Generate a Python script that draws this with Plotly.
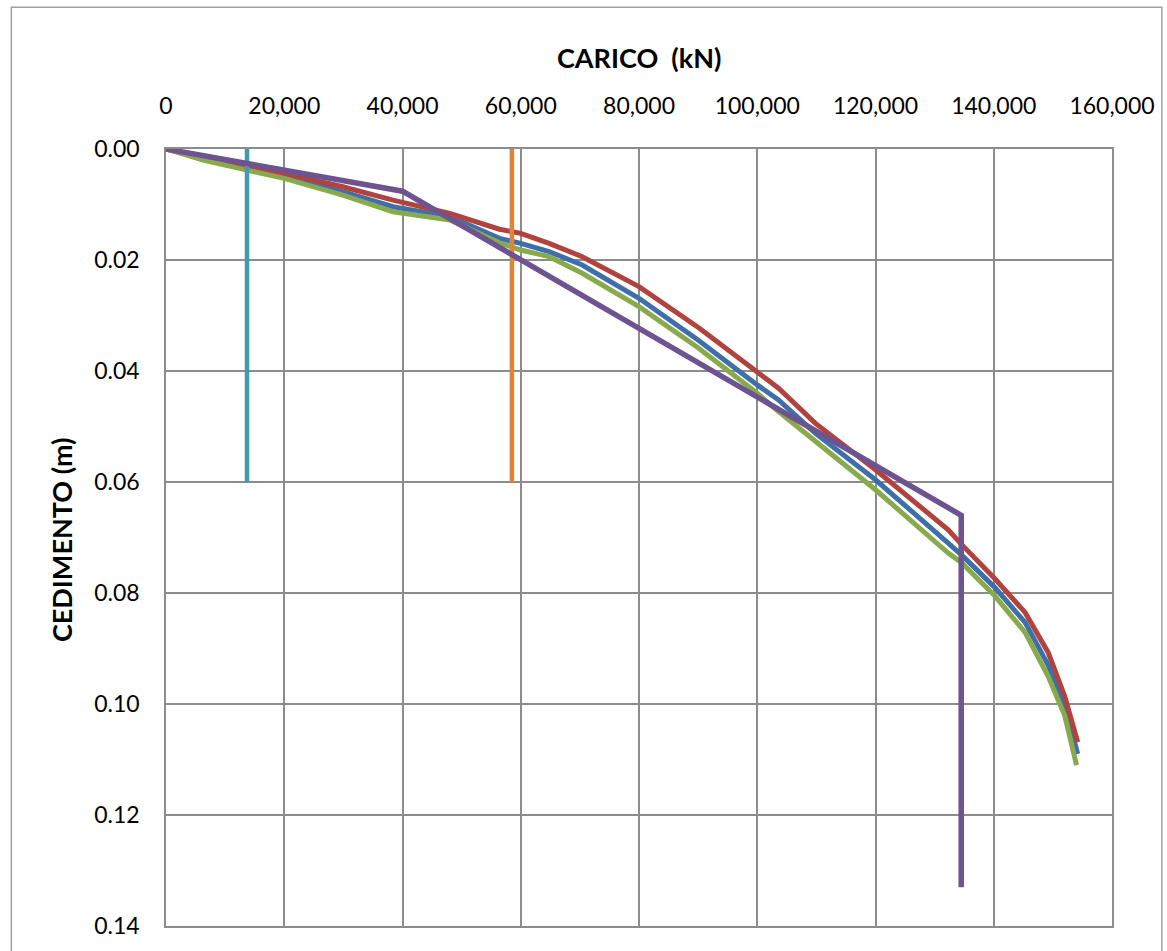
import plotly.graph_objects as go

# Load (kN) and settlement (m) series
red_x = [0, 6300, 13700, 20000, 29900, 38400, 48000, 56400, 60000, 64800, 70400, 80000, 90100,
         100000, 103600, 109800, 120000, 132300, 134500, 140000, 145300, 149200, 152000, 154200]
red_y = [0, 0.0017, 0.0034, 0.0044, 0.0068, 0.0092, 0.0116, 0.01445, 0.0152, 0.0170, 0.0194, 0.0248, 0.0322,
         0.0404, 0.0431, 0.0494, 0.0578, 0.0686, 0.0712, 0.0772, 0.0835, 0.0907, 0.0986, 0.1069]

blue_x = [0, 6300, 13700, 20000, 29900, 38400, 48000, 56400, 60000, 64800, 70400, 80000, 90100,
          100000, 103600, 109800, 120000, 132300, 134500, 140000, 145300, 149200, 152000, 154200]
blue_y = [0, 0.0017, 0.0035, 0.0050, 0.0077, 0.0104, 0.0122, 0.0161, 0.0170, 0.0185, 0.0209, 0.0269, 0.0345,
          0.0425, 0.0452, 0.0512, 0.0596, 0.0710, 0.0731, 0.0788, 0.0853, 0.0930, 0.1003, 0.1090]

green_x = [0, 6300, 13700, 20000, 29900, 38400, 48000, 56400, 60000, 64800, 70400, 80000, 90100,
           100000, 103600, 109800, 120000, 132300, 134500, 140000, 145300, 149200, 152000, 154000]
green_y = [0, 0.0020, 0.0038, 0.0053, 0.0083, 0.0113, 0.0128, 0.0169, 0.0182, 0.0194, 0.0224, 0.0284, 0.0359,
           0.0440, 0.0473, 0.0527, 0.0614, 0.0728, 0.0745, 0.0803, 0.0871, 0.0950, 0.1021, 0.1110]

purple_x = [0, 40000, 134500, 134500]
purple_y = [0, 0.0076, 0.0660, 0.1330]

cyan_x = [13700, 13700]
cyan_y = [0, 0.060]

orange_x = [58500, 58500]
orange_y = [0, 0.060]

x_ticks = [0, 20000, 40000, 60000, 80000, 100000, 120000, 140000, 160000]
y_ticks = [0, 0.02, 0.04, 0.06, 0.08, 0.10, 0.12, 0.14]

FONT = "Lato"
GRID = "#8C8C8C"

fig = go.Figure()
series = [
    (cyan_x, cyan_y, "#3F9BB3", 4.5),
    (orange_x, orange_y, "#E2833A", 4.5),
    (blue_x, blue_y, "#3F6FAA", 5),
    (red_x, red_y, "#B0433E", 5),
    (green_x, green_y, "#88AA4C", 5),
    (purple_x, purple_y, "#6E5391", 5.5),
]
order = [2, 3, 4, 0, 1, 5]
for i in order:
    xs, ys, col, w = series[i]
    fig.add_trace(go.Scatter(x=xs, y=ys, mode="lines",
                             line=dict(color=col, width=w), showlegend=False))

fig.update_layout(
    width=1167, height=951,
    margin=dict(l=166, r=53, t=149, b=24),
    paper_bgcolor="white", plot_bgcolor="white",
    font=dict(family=FONT, size=23, color="#000000"),
    showlegend=False,
)
fig.update_xaxes(
    side="top", range=[0, 160000], tickvals=x_ticks,
    tickformat=",", showgrid=True, gridcolor=GRID, gridwidth=1.5,
    showline=True, linecolor=GRID, linewidth=1.5, mirror=True,
    zeroline=False, ticks="", ticklabelstandoff=24,
)
fig.update_yaxes(
    range=[0.14, 0], tickvals=y_ticks, tickformat=".2f",
    showgrid=True, gridcolor=GRID, gridwidth=1.5,
    showline=True, linecolor=GRID, linewidth=1.5, mirror=True,
    zeroline=False, ticks="", ticklabelstandoff=20,
)

fig.add_annotation(text="<b>CARICO  (kN)</b>", xref="paper", yref="paper",
                   x=0.5, y=1.118, xanchor="center", yanchor="middle",
                   showarrow=False, font=dict(family=FONT, size=27))
fig.add_annotation(text="<b>CEDIMENTO (m)</b>", xref="paper", yref="paper",
                   x=-0.1097, y=0.497, xanchor="center", yanchor="middle",
                   textangle=-90, showarrow=False,
                   font=dict(family=FONT, size=27))

fig.add_shape(type="rect", xref="paper", yref="paper",
              x0=-0.1635, x1=1.0527, y0=-0.06, y1=1.1825,
              line=dict(color="#A0A0A0", width=1.5), fillcolor="rgba(0,0,0,0)", layer="below")

fig.write_html("out.html")
